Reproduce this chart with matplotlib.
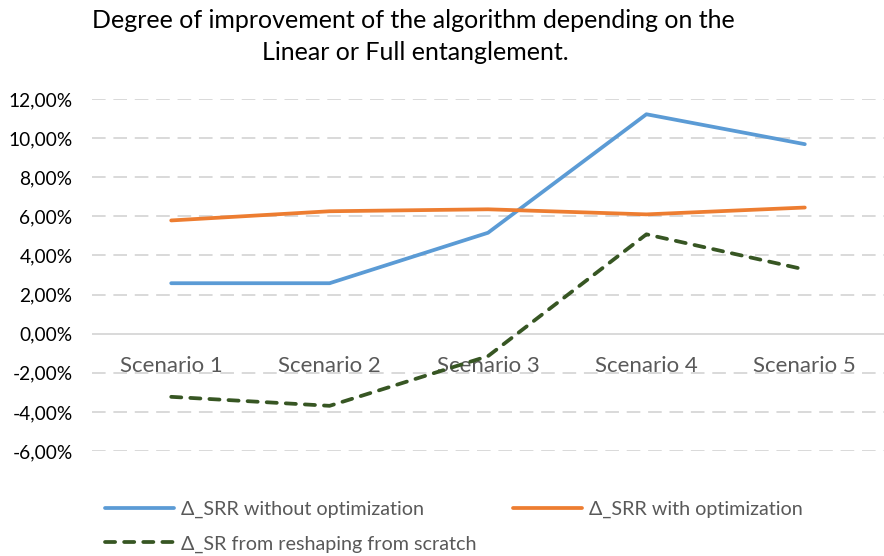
import matplotlib
matplotlib.use("Agg")
import matplotlib.pyplot as plt
from matplotlib.ticker import FuncFormatter, MultipleLocator

plt.rcParams["font.family"] = ["Lato", "DejaVu Sans"]
plt.rcParams["axes.unicode_minus"] = False

# data (percent)
scenarios = ["Scenario 1", "Scenario 2", "Scenario 3", "Scenario 4", "Scenario 5"]
srr_without = [2.58, 2.58, 5.16, 11.22, 9.69]
srr_with = [5.79, 6.26, 6.36, 6.10, 6.45]
sr_scratch = [-3.23, -3.69, -1.15, 5.08, 3.28]

labels = ["\u0394_SRR without optimization", "\u0394_SRR with optimization",
          "\u0394_SR from reshaping from scratch"]

fig = plt.figure(figsize=(8.84, 5.56), dpi=100)
ax = fig.add_axes([92 / 884, 1 - 451 / 556, 1 - 92 / 884, (451 - 99) / 556])

x = list(range(len(scenarios)))
l1, = ax.plot(x, srr_without, color="#5B9BD5", lw=2.7, solid_capstyle="round")
l2, = ax.plot(x, srr_with, color="#ED7D31", lw=2.7, solid_capstyle="round")
l3, = ax.plot(x, sr_scratch, color="#375623", lw=2.7, dashes=(2.7, 2.4),
              dash_capstyle="round")

ax.set_xlim(-0.5, len(scenarios) - 0.5)
ax.set_ylim(-6, 12)
ax.yaxis.set_major_locator(MultipleLocator(2))
ax.yaxis.set_major_formatter(FuncFormatter(lambda v, p: f"{v:.2f}%".replace(".", ",")))
ax.tick_params(axis="y", length=0, labelsize=13.8, pad=14, labelcolor="#000000")
ax.set_xticks([])

for s in ax.spines.values():
    s.set_visible(False)

for v in range(-6, 13, 2):
    if v == 0:
        ax.axhline(v, color="#D9D9D9", lw=1.4, zorder=0)
    else:
        ax.axhline(v, color="#D9D9D9", lw=1.4, dashes=(7, 4), zorder=0)

# category labels sit just below the zero line
for i, name in enumerate(scenarios):
    ax.annotate(name, xy=(i, 0), xytext=(0, -23), textcoords="offset points",
                ha="center", va="center", fontsize=16, color="#595959",
                zorder=1)

fig.text(413 / 884, 1 - 20 / 556,
         "Degree of improvement of the algorithm depending on the",
         ha="center", va="center", fontsize=18, color="#000000")
fig.text(415 / 884, 1 - 53 / 556, "Linear or Full entanglement.",
         ha="center", va="center", fontsize=18, color="#000000")

leg_kw = dict(loc="upper left", frameon=False, fontsize=14.2, handlelength=3.5,
              handletextpad=0.35, labelspacing=0.88, labelcolor="#595959")
fig.legend([l1, l3], [labels[0], labels[2]],
           bbox_to_anchor=(87 / 884, 1 - 483 / 556), **leg_kw)
fig.legend([l2], [labels[1]],
           bbox_to_anchor=(495 / 884, 1 - 483 / 556), **leg_kw)

fig.savefig("out.png", dpi=100)
